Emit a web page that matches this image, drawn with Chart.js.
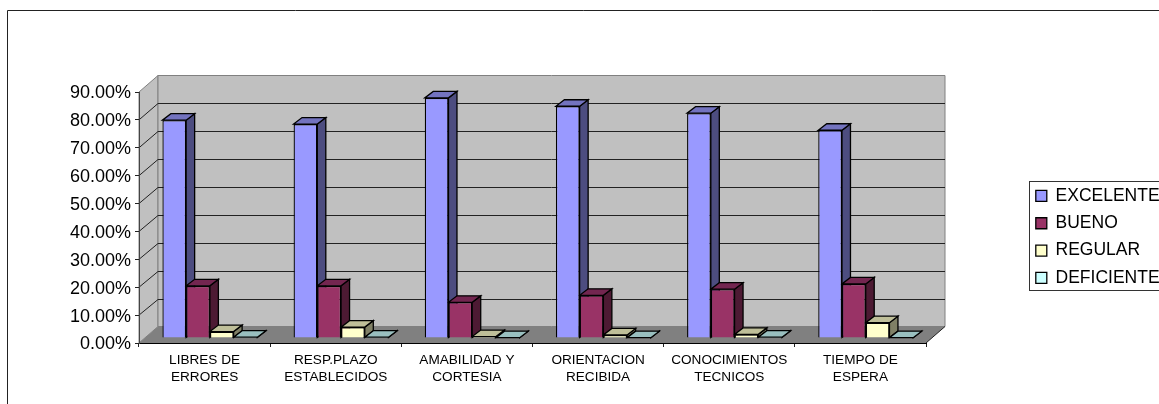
<!DOCTYPE html>
<html>
<head>
<meta charset="utf-8">
<title>Encuesta</title>
<script src="https://cdn.jsdelivr.net/npm/chart.js@4"></script>
<style>
  html, body { margin: 0; padding: 0; background: #fff; overflow: hidden; }
  canvas { display: block; }
</style>
</head>
<body>
<canvas id="encuesta" width="1159" height="404"></canvas>
<script>
var categories = [
  ["LIBRES DE", "ERRORES"],
  ["RESP.PLAZO", "ESTABLECIDOS"],
  ["AMABILIDAD Y", "CORTESIA"],
  ["ORIENTACION", "RECIBIDA"],
  ["CONOCIMIENTOS", "TECNICOS"],
  ["TIEMPO DE", "ESPERA"]
];
var seriesNames = ["EXCELENTE", "BUENO", "REGULAR", "DEFICIENTE"];
var excelente = [78.1, 76.7, 86.1, 83.1, 80.6, 74.5];
var bueno = [18.7, 18.7, 12.8, 15.3, 17.5, 19.4];
var regular = [2.3, 3.9, 0.5, 1.1, 1.3, 5.5];
var deficiente = [0.3, 0.3, 0.1, 0.1, 0.3, 0.1];

var frontColors = ["#9999ff", "#993366", "#ffffcc", "#ccffff"];
var sideColors = ["#4d4d80", "#4d1a33", "#808066", "#668080"];
var topColors = ["#7373bf", "#732650", "#bfbf99", "#99bfbf"];

// depth of the walls and of the bars, pixels
var WALL_DX = 19, WALL_DY = 16.5;
var BAR_DX = 8.5, BAR_DY = 6.5;
var BAR_SHIFT_X = 5.3, BAR_SHIFT_Y = -5;
var BAR_LINE = 1.3;

Chart.defaults.font.family = '"Liberation Sans", Arial, sans-serif';
Chart.defaults.color = "#000";

function poly(ctx, pts, fill, stroke, lineWidth) {
  ctx.beginPath();
  ctx.moveTo(pts[0][0], pts[0][1]);
  for (var i = 1; i < pts.length; i++) ctx.lineTo(pts[i][0], pts[i][1]);
  ctx.closePath();
  if (fill) { ctx.fillStyle = fill; ctx.fill(); }
  if (stroke) { ctx.strokeStyle = stroke; ctx.lineWidth = lineWidth || 1; ctx.stroke(); }
}

var fakeThreeD = {
  id: "fakeThreeD",
  afterLayout: function(chart) {
    // the legend sits away from the plot, and runs off the right edge
    var lg = chart.legend;
    lg.left = 1026; lg.right = 1159; lg.top = 177.4; lg.bottom = 404;
  },
  beforeDraw: function(chart) {
    var ctx = chart.ctx, a = chart.chartArea, y = chart.scales.y;
    var l = a.left, r = a.right, b = a.bottom, t = a.top;
    ctx.save();
    // outer frame of the picture
    ctx.strokeStyle = "#222";
    ctx.lineWidth = 1;
    ctx.beginPath();
    ctx.moveTo(7.5, 404); ctx.lineTo(7.5, 10.5); ctx.lineTo(1159, 10.5);
    ctx.stroke();
    // walls and floor
    poly(ctx, [[l, t], [l + WALL_DX, t - WALL_DY], [l + WALL_DX, b - WALL_DY], [l, b]], "#c0c0c0", "#808080");
    poly(ctx, [[l + WALL_DX, t - WALL_DY], [r + WALL_DX, t - WALL_DY], [r + WALL_DX, b - WALL_DY], [l + WALL_DX, b - WALL_DY]], "#c0c0c0", "#808080");
    poly(ctx, [[l, b], [r, b], [r + WALL_DX, b - WALL_DY], [l + WALL_DX, b - WALL_DY]], "#808080", null);
    // grid lines, side wall then back wall
    ctx.strokeStyle = "#222";
    ctx.lineWidth = 1;
    y.ticks.forEach(function(tick) {
      if (tick.value === 0 || tick.value === y.max) return;
      var py = y.getPixelForValue(tick.value);
      var back = Math.round(py - WALL_DY) + 0.5;
      ctx.beginPath();
      ctx.moveTo(l, py);
      ctx.lineTo(l + WALL_DX, back);
      ctx.lineTo(r + WALL_DX, back);
      ctx.stroke();
    });
    ctx.beginPath();
    ctx.moveTo(r, b); ctx.lineTo(r + WALL_DX, b - WALL_DY);
    ctx.stroke();
    // legend frame
    ctx.fillStyle = "#fff";
    ctx.fillRect(1029, 181, 140, 110);
    ctx.strokeStyle = "#333";
    ctx.strokeRect(1029.5, 181.5, 140, 109);
    ctx.restore();
  },
  // side and top faces go first, left bar to right bar, the library's fronts cover them
  beforeDatasetsDraw: function(chart) {
    var ctx = chart.ctx;
    ctx.save();
    ctx.translate(BAR_SHIFT_X, BAR_SHIFT_Y);
    chart.data.datasets.forEach(function(ds, i) {
      chart.getDatasetMeta(i).data.forEach(function(bar) {
        var p = bar.getProps(["x", "y", "base", "width"], true);
        var x0 = p.x - p.width / 2, x1 = p.x + p.width / 2;
        poly(ctx, [[x1, p.y], [x1 + BAR_DX, p.y - BAR_DY], [x1 + BAR_DX, p.base - BAR_DY], [x1, p.base]], sideColors[i], "#000", BAR_LINE);
        poly(ctx, [[x0, p.y], [x1, p.y], [x1 + BAR_DX, p.y - BAR_DY], [x0 + BAR_DX, p.y - BAR_DY]], topColors[i], "#000", BAR_LINE);
      });
    });
    ctx.restore();
  },
  beforeDatasetDraw: function(chart) {
    chart.ctx.save();
    chart.ctx.translate(BAR_SHIFT_X, BAR_SHIFT_Y);
  },
  afterDatasetDraw: function(chart) {
    chart.ctx.restore();
  }
};

var seriesValues = [excelente, bueno, regular, deficiente];
var datasets = seriesNames.map(function(name, i) {
  return {
    label: name,
    data: seriesValues[i],
    backgroundColor: frontColors[i],
    borderColor: "#000",
    borderWidth: BAR_LINE,
    clip: false
  };
});

new Chart(document.getElementById("encuesta"), {
  type: "bar",
  data: { labels: categories, datasets: datasets },
  plugins: [fakeThreeD],
  options: {
    responsive: false,
    animation: false,
    categoryPercentage: 0.724,
    barPercentage: 1,
    layout: { padding: { left: 0, top: 92, right: 113, bottom: 0 } },
    plugins: {
      tooltip: { enabled: false },
      legend: {
        position: "right",
        align: "start",
        maxWidth: 120,
        labels: { font: { size: 17.5 }, boxWidth: 11, boxHeight: 11, padding: 9.8, color: "#000" }
      }
    },
    scales: {
      x: {
        afterFit: function(s) { s.height = 61; },
        border: { color: "#000" },
        grid: { drawOnChartArea: false, drawTicks: true, tickLength: 4, color: "#222" },
        ticks: { font: { size: 13.6, lineHeight: 1.3 }, color: "#000", maxRotation: 0, autoSkip: false, padding: 4 }
      },
      y: {
        min: 0,
        max: 90,
        afterFit: function(s) { s.width = 139; },
        border: { color: "#444" },
        grid: { drawOnChartArea: false, drawTicks: true, tickLength: 4, color: "#222" },
        ticks: {
          stepSize: 10,
          font: { size: 18 },
          color: "#000",
          padding: 4,
          labelOffset: 1.5,
          callback: function(v) { return v.toFixed(2) + "%"; }
        }
      }
    }
  }
});
</script>
</body>
</html>
